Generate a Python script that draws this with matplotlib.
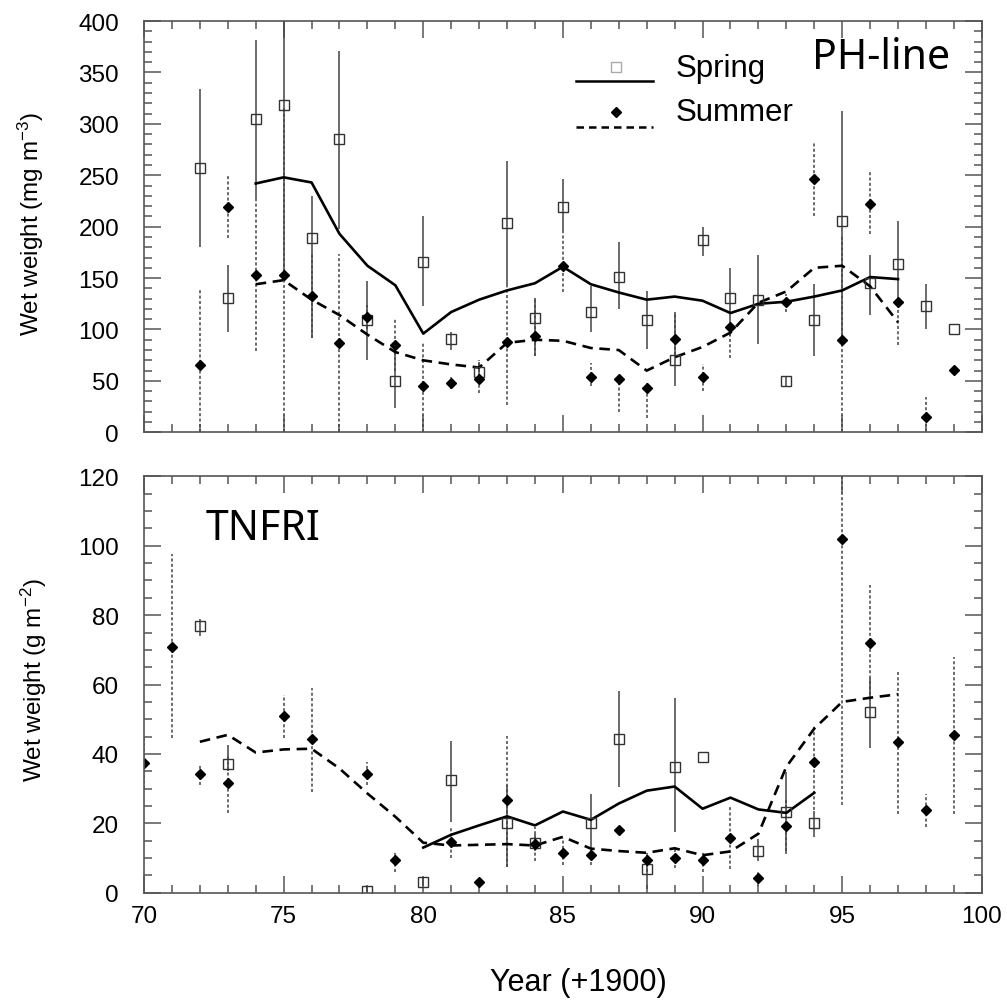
import numpy as np
import matplotlib.pyplot as plt
from matplotlib.ticker import MultipleLocator

plt.rcParams['font.family'] = ['Liberation Sans', 'DejaVu Sans']
plt.rcParams['mathtext.default'] = 'regular'

nan = np.nan

# PH-line, wet weight (mg m-3)
ph_years = np.arange(72, 100)
ph_spr = [257, 131, 305, 318, 189, 285, 109, 50, 166, 91, 59, 204, 111, 219,
          117, 151, 109, 70, 187, 131, 129, 50, 109, 206, 145, 164, 123, 100]
ph_spr_lo = [180, 98, 225, 150, 92, 198, 70, 24, 123, 80, 50, 142, 74, 194,
             98, 120, 81, 45, 171, 94, 86, 45, 74, 90, 114, 126, 100, 100]
ph_spr_hi = [334, 163, 382, 440, 230, 371, 147, 84, 210, 98, 68, 264, 131, 246,
             142, 185, 137, 117, 200, 160, 172, 55, 144, 313, 172, 206, 144, 100]
ph_sum = [65, 219, 153, 153, 133, 87, 112, 85, 45, 48, 52, 88, 94, 162,
          54, 52, 43, 91, 54, 102, nan, 127, 246, 90, 222, 127, 15, 61]
ph_sum_lo = [-10, 189, 79, -10, 92, -10, 100, 60, -10, 42, 38, 27, 74, 136,
             45, 20, 14, 75, 40, 72, nan, 117, 210, -10, 193, 85, -5, 61]
ph_sum_hi = [139, 250, 225, 316, 173, 173, 124, 110, 87, 54, 70, 142, 131, 194,
             67, 55, 48, 117, 66, 106, nan, 135, 281, 190, 253, 127, 34, 61]
ph_mean_years = np.arange(74, 98)
ph_spr_mean = [242, 248, 243, 193, 162, 143, 96, 117, 129, 138, 145, 161,
               144, 136, 129, 132, 128, 116, 125, 127, 132, 138, 151, 149]
ph_sum_mean = [144, 148, 129, 114, 95, 78, 70, 66, 63, 87, 90, 89,
               82, 80, 60, 73, 83, 97, 126, 137, 160, 162, 142, 107]

# TNFRI, wet weight (g m-2)
tn_spr_years = [72, 73, 78, 80, 81, 83, 84, 86, 87, 88, 89, 90, 92, 93, 94, 96]
tn_spr = [76.8, 37, 0.6, 3.2, 32.4, 20.2, 14.4, 20.2, 44.4, 6.9, 36.3, 39, 12, 23.3, 20.2, 52.2]
tn_spr_lo = [74, 35, 0, 2, 20.4, 7.5, 12, 10.7, 30.6, 1, 17.6, 39, 9, 11.2, 16, 41.8]
tn_spr_hi = [79, 42.5, 1.5, 4.5, 43.6, 31, 17, 28.5, 58, 11, 56, 39, 15.6, 34.9, 23.5, 62]
tn_sum_years = [70, 71, 72, 73, 75, 76, 78, 79, 81, 82, 83, 84, 85, 86, 87, 88,
                89, 90, 91, 92, 93, 94, 95, 96, 97, 98, 99]
tn_sum = [37.5, 70.7, 34.3, 31.7, 50.8, 44.2, 34.3, 9.3, 14.6, 3.2, 26.6, 14, 11.5, 10.8, 18, 9.3,
          10, 9.3, 15.9, 4.3, 19.3, 37.7, 102, 72.1, 43.5, 23.7, 45.4]
tn_sum_lo = [30, 44.7, 31, 22.9, 44.7, 29, 31, 6, 10, 3.2, 7.5, 9, 8, 8, 18, 6,
             7, 6, 6.9, 2, 12, 23.7, 25.2, 55.6, 22.8, 18.9, 22.8]
tn_sum_hi = [45, 97.5, 37, 40, 57, 59, 37.6, 12, 19, 3.2, 45.3, 19, 15.7, 13, 18, 12,
             13, 12, 25, 6, 27, 48.3, 125, 88.6, 63.7, 28.5, 67.8]
tn_spr_mean_years = np.arange(80, 95)
tn_spr_mean = [13, 16.7, 19.4, 22, 19.4, 23.4, 21, 25.7, 29.4, 30.6, 24.2, 27.4, 24, 23, 28.8]
tn_sum_mean_years = np.arange(72, 98)
tn_sum_mean = [43.5, 45.5, 40.4, 41.3, 41.5, 35.8, 28.6, 21.9, 14.4, 13.6, 13.8, 14, 13.6,
               16.1, 12.7, 12, 11.5, 12.8, 10.8, 11.9, 17, 36.3, 47.3, 55, 56.2, 57.2]


def style(ax):
    for s in ax.spines.values():
        s.set_color('#555555')
        s.set_linewidth(1.2)
    ax.tick_params(which='both', direction='in', top=True, right=True,
                   color='#555555', width=1.1)
    ax.tick_params(which='major', length=12)
    ax.tick_params(which='minor', length=6)
    ax.tick_params(axis='y', pad=18, labelsize=17.5)
    ax.tick_params(axis='x', pad=9, labelsize=17.5)
    ax.xaxis.set_major_locator(MultipleLocator(5))
    ax.xaxis.set_minor_locator(MultipleLocator(1))
    ax.set_xlim(70, 100)


def draw(ax, spr_x, spr, spr_lo, spr_hi, sum_x, sm, sm_lo, sm_hi, ms_x, ms, mu_x, mu):
    ax.vlines(spr_x, spr_lo, spr_hi, colors='#444444', lw=1.1)
    ax.vlines(sum_x, sm_lo, sm_hi, colors='#444444', lw=1.1, linestyles=(0, (2, 1.5)))
    ax.plot(ms_x, ms, color='black', lw=1.9)
    ax.plot(mu_x, mu, color='black', lw=1.9, ls=(0, (4, 2.5)))
    ax.plot(spr_x, spr, ls='none', marker='s', ms=7, mfc='none', mec='#333333', mew=1.0)
    ax.plot(sum_x, sm, ls='none', marker='D', ms=5, mfc='black', mec='black')


fig = plt.figure(figsize=(10.07, 10.03), dpi=100)
ax1 = fig.add_axes([0.143, 0.568, 0.832, 0.410])
ax2 = fig.add_axes([0.143, 0.109, 0.832, 0.415])

# top panel
draw(ax1, ph_years, ph_spr, ph_spr_lo, ph_spr_hi, ph_years, ph_sum, ph_sum_lo, ph_sum_hi,
     ph_mean_years, ph_spr_mean, ph_mean_years, ph_sum_mean)
style(ax1)
ax1.set_ylim(0, 400)
ax1.yaxis.set_major_locator(MultipleLocator(50))
ax1.yaxis.set_minor_locator(MultipleLocator(10))
ax1.tick_params(axis='x', labelbottom=False)
ax1.set_ylabel('Wet weight (mg m$^{-3}$)', fontsize=17.5)
ax1.yaxis.set_label_coords(-0.117, 0.51)
ax1.text(0.797, 0.912, 'PH-line', transform=ax1.transAxes, fontsize=29.5,
         va='center', family='Noto Sans')

# legend: marker drawn above its line
ax1.plot([0.563], [0.888], transform=ax1.transAxes, marker='s', ms=7,
         mfc='none', mec='#aaaaaa', mew=1.0)
ax1.plot([0.516, 0.607], [0.854, 0.854], transform=ax1.transAxes, color='black', lw=1.8)
ax1.plot([0.563], [0.779], transform=ax1.transAxes, marker='D', ms=5, color='black')
ax1.plot([0.516, 0.607], [0.742, 0.742], transform=ax1.transAxes, color='black',
         lw=1.8, ls=(0, (3, 2)))
ax1.text(0.634, 0.886, 'Spring', transform=ax1.transAxes, fontsize=22.5, va='center')
ax1.text(0.634, 0.779, 'Summer', transform=ax1.transAxes, fontsize=22.5, va='center')

# bottom panel
draw(ax2, tn_spr_years, tn_spr, tn_spr_lo, tn_spr_hi, tn_sum_years, tn_sum, tn_sum_lo, tn_sum_hi,
     tn_spr_mean_years, tn_spr_mean, tn_sum_mean_years, tn_sum_mean)
style(ax2)
ax2.set_ylim(0, 120)
ax2.yaxis.set_major_locator(MultipleLocator(20))
ax2.yaxis.set_minor_locator(MultipleLocator(5))
ax2.set_ylabel('Wet weight (g m$^{-2}$)', fontsize=17.5)
ax2.yaxis.set_label_coords(-0.113, 0.514)
ax2.set_xlabel('Year (+1900)', fontsize=22)
ax2.xaxis.set_label_coords(0.519, -0.178)
ax2.xaxis.label.set_va('top')
ax2.text(0.074, 0.875, 'TNFRI', transform=ax2.transAxes, fontsize=29.5,
         va='center', family='Noto Sans')

fig.savefig('out.png', dpi=100)
